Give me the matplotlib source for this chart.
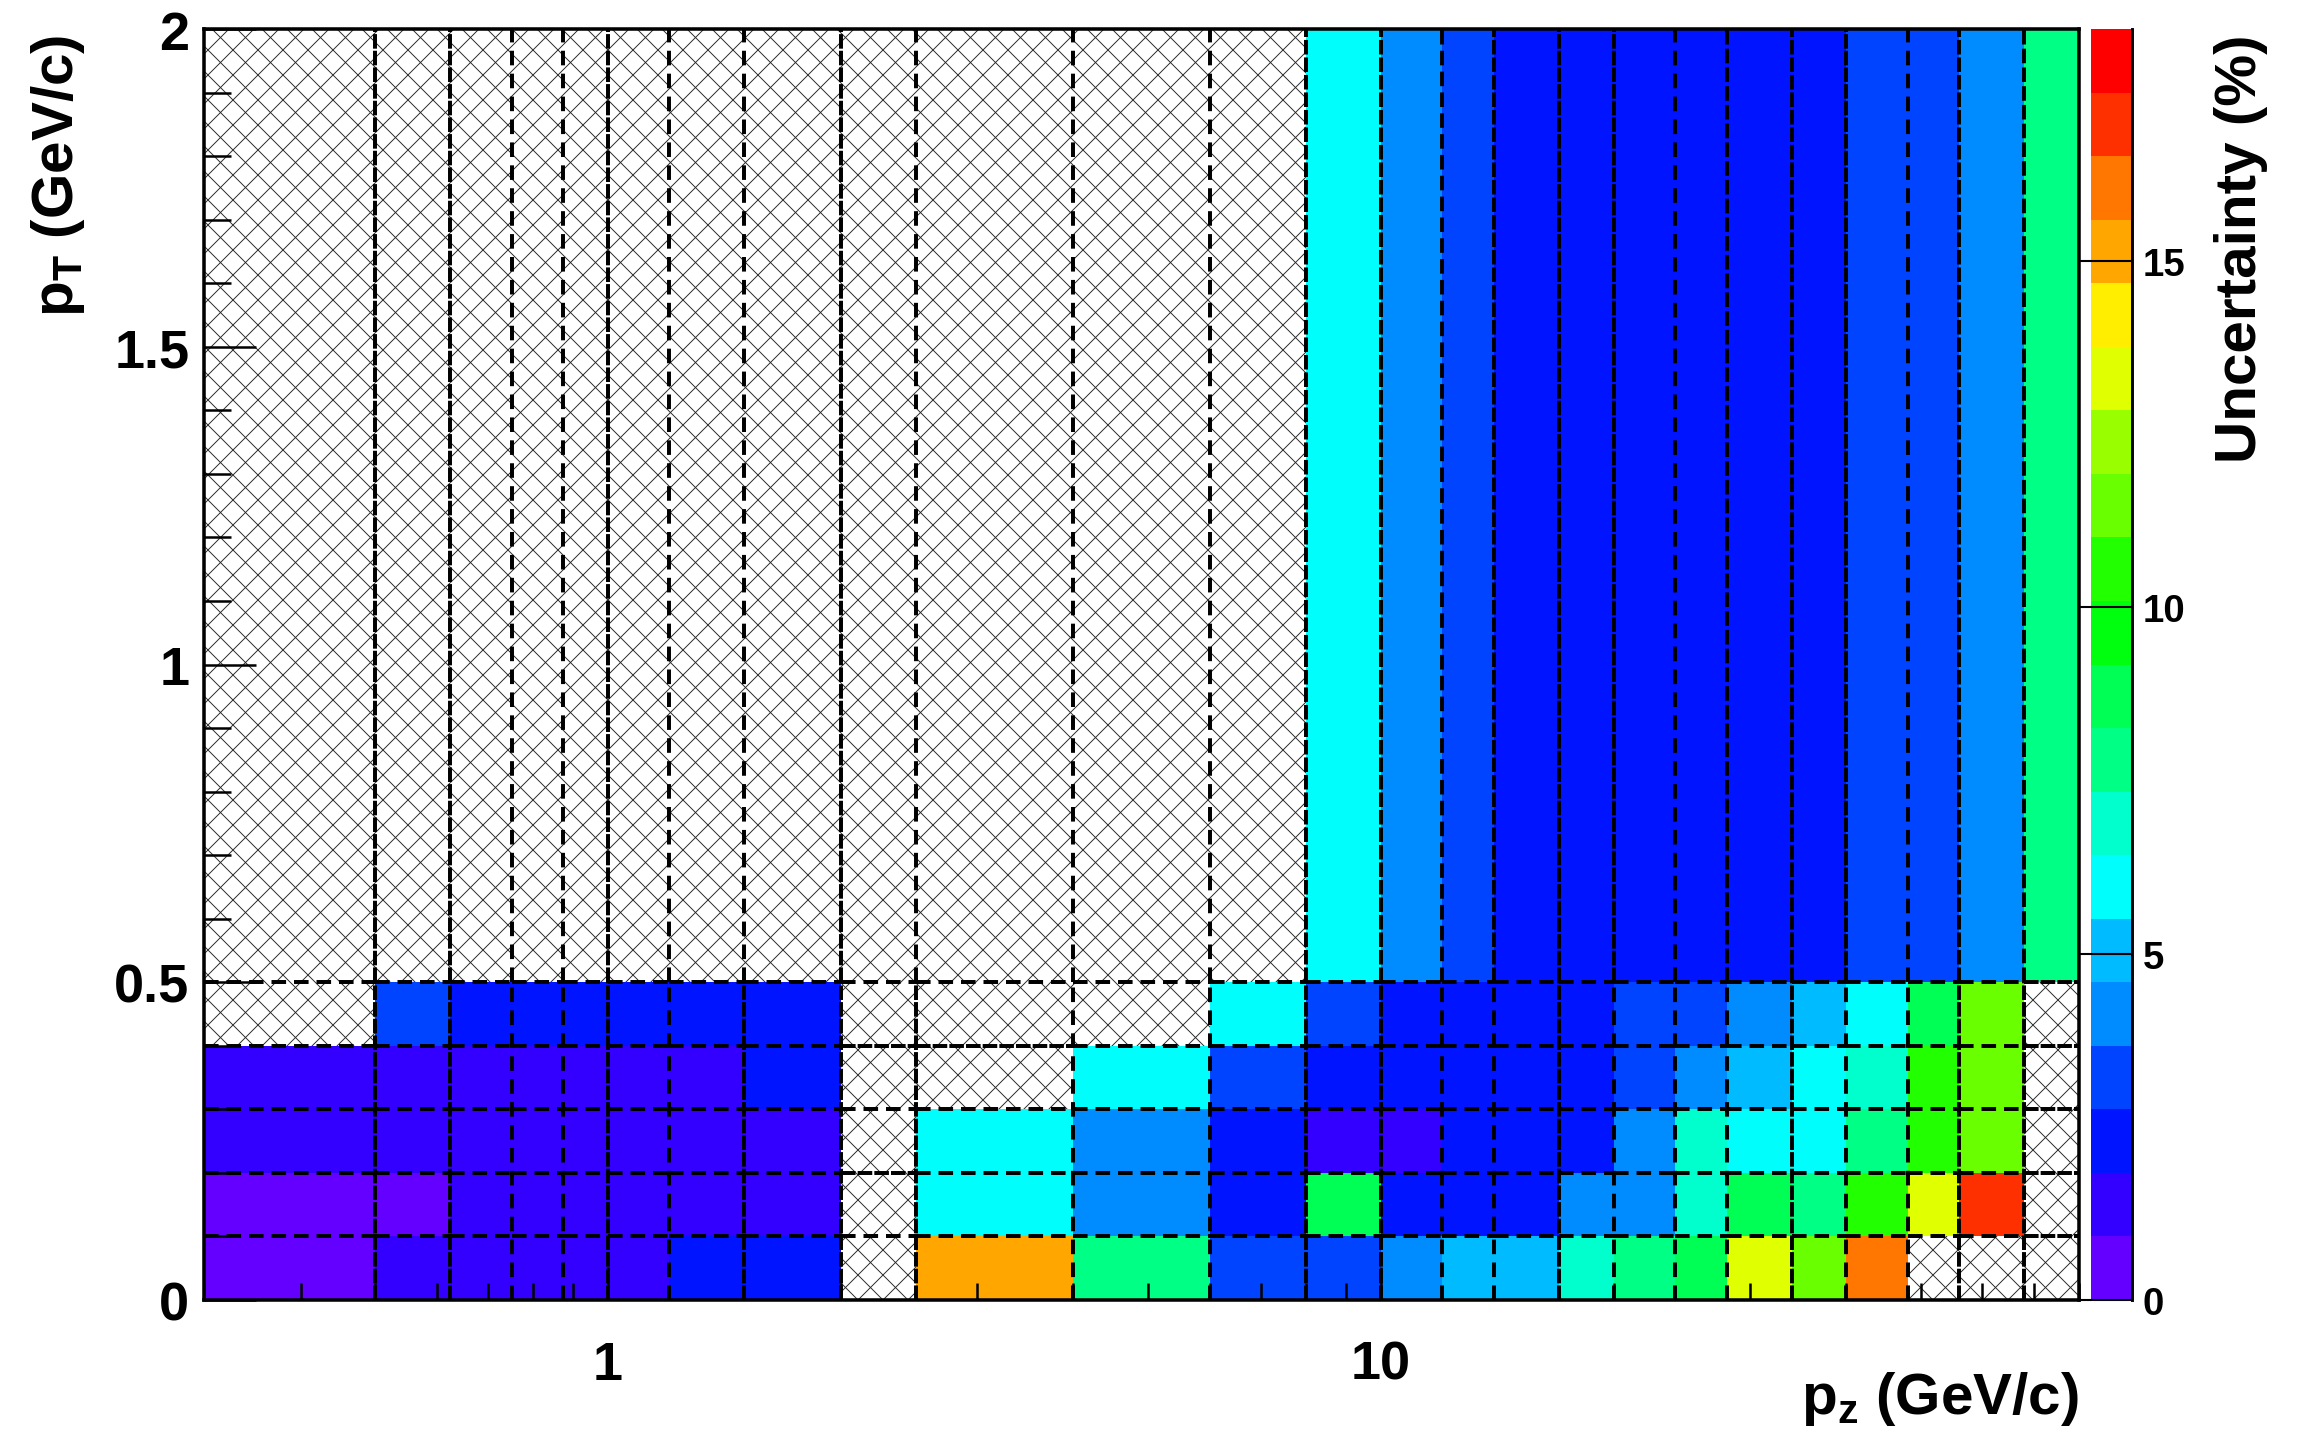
import colorsys
import numpy as np
import matplotlib
matplotlib.use("Agg")
import matplotlib.pyplot as plt
from matplotlib.colors import ListedColormap, BoundaryNorm
from matplotlib.collections import LineCollection
from matplotlib.ticker import LogLocator, MultipleLocator, NullFormatter

# bin edges (p_z log axis, p_T linear)
pz_edges = [0.3, 0.5, 0.625, 0.75, 0.875, 1.0, 1.2, 1.5, 2.0, 2.5, 4.0, 6.0, 8.0,
            10, 12, 14, 17, 20, 24, 28, 34, 40, 48, 56, 68, 80]
pt_edges = [0.0, 0.1, 0.2, 0.3, 0.4, 0.5, 2.0]

nan = np.nan
# uncertainty (%) per p_z bin, one list per p_T row (nan = empty bin)
unc_pt_00_01 = [0.5, 1.4, 1.4, 1.4, 1.4, 1.4, 2.3, 2.3, nan, 15.1, 7.8, 3.2,
                3.2, 4.1, 5.0, 5.0, 6.9, 7.8, 8.7, 13.3, 11.5, 16.0, nan, nan, nan]
unc_pt_01_02 = [0.5, 0.5, 1.4, 1.4, 1.4, 1.4, 1.4, 1.4, nan, 6.0, 4.1, 2.3,
                8.7, 2.3, 2.3, 2.3, 4.1, 4.1, 6.9, 8.7, 7.8, 10.5, 13.3, 17.0, nan]
unc_pt_02_03 = [1.4, 1.4, 1.4, 1.4, 1.4, 1.4, 1.4, 1.4, nan, 6.0, 4.1, 2.3,
                1.4, 1.4, 2.3, 2.3, 2.3, 4.1, 6.9, 6.0, 6.0, 7.8, 10.5, 11.5, nan]
unc_pt_03_04 = [1.4, 1.4, 1.4, 1.4, 1.4, 1.4, 1.4, 2.3, nan, nan, 6.0, 3.2,
                2.3, 2.3, 2.3, 2.3, 2.3, 3.2, 4.1, 5.0, 6.0, 6.9, 10.5, 11.5, nan]
unc_pt_04_05 = [nan, 3.2, 2.3, 2.3, 2.3, 2.3, 2.3, 2.3, nan, nan, nan, 6.0,
                3.2, 2.3, 2.3, 2.3, 2.3, 3.2, 3.2, 4.1, 5.0, 6.0, 8.7, 11.5, nan]
unc_pt_05_20 = [nan, nan, nan, nan, nan, nan, nan, nan, nan, nan, nan, nan,
                6.0, 4.1, 3.2, 2.3, 2.3, 2.3, 2.3, 2.3, 2.3, 3.2, 3.2, 4.1, 7.8]

z_max = 18.35
n_contours = 20

# look of the bin borders: dash gap (pt) of each inner p_z edge, above / below p_T = 0.5
gap_upper = [1, 1, 4, 4, 1, 4, 4, 1, 4, 4, 4, 1.4, 1.4, 3, 1.4, 1, 1, 4, 2, 1.4, 1, 4, 1.4, 2]
gap_lower = [1, 1, 4, 4, 1, 4, 1, 1, 1, 4, 4, 1, 1, 4, 4, 1, 4, 4, 4, 1, 4, 4, 1, 1]

plt.rcParams['font.family'] = ['Liberation Sans', 'DejaVu Sans']
plt.rcParams['font.weight'] = 'bold'
plt.rcParams['mathtext.default'] = 'regular'
plt.rcParams['lines.scale_dashes'] = False

# ROOT pretty palette (SetPalette(1)) sampled for 20 contours
cols = []
for i in range(n_contours):
    idx = int((i + 0.99) * 50 / n_contours)
    hue = 280 - (idx + 1) * 280 / 50
    cols.append(colorsys.hls_to_rgb(hue / 360, 0.5, 1.0))
cmap = ListedColormap(cols)
norm = BoundaryNorm(np.linspace(0, z_max, n_contours + 1), n_contours)

Z = np.ma.masked_invalid(np.array([unc_pt_00_01, unc_pt_01_02, unc_pt_02_03,
                                   unc_pt_03_04, unc_pt_04_05, unc_pt_05_20]))

W, H = 2297, 1443
fig = plt.figure(figsize=(W / 150, H / 150), dpi=150)
ax = fig.add_axes([0.0888, 0.0984, 0.8163, 0.8808])
ax.set_xscale('log')

# cross hatch of the frame (shows through empty bins), 25 px pitch
aw, ah = 0.8163 * W, 0.8808 * H
hatch = []
for c in np.arange(-ah, aw + ah, 25):
    hatch.append([(c / aw, 0), ((c + ah) / aw, 1)])
    hatch.append([(c / aw, 0), ((c - ah) / aw, 1)])
ax.add_collection(LineCollection(hatch, colors='#262626', linewidths=0.45,
                                 transform=ax.transAxes, zorder=0), autolim=False)

mesh = ax.pcolormesh(pz_edges, pt_edges, Z, cmap=cmap, norm=norm, zorder=1,
                     antialiased=False, linewidth=0)

# dashed bin borders
segs, styles = [], []
for i in range(1, len(pz_edges) - 1):
    segs.append([(pz_edges[i], 0), (pz_edges[i], 0.5)])
    styles.append((0, (7, gap_lower[i - 1])))
    segs.append([(pz_edges[i], 0.5), (pz_edges[i], 2.0)])
    styles.append((0, (7, gap_upper[i - 1])))
for j in range(1, len(pt_edges) - 1):
    for i in range(len(pz_edges) - 1):
        segs.append([(pz_edges[i], pt_edges[j]), (pz_edges[i + 1], pt_edges[j])])
        near_solid = i == 24 or (j == 2 and i == 8) or (j == 4 and i in (8, 9))
        styles.append((0, (7, 1 if near_solid else 3.8)))
ax.add_collection(LineCollection(segs, colors='black', linewidths=1.9,
                                 linestyles=styles, zorder=2), autolim=False)

ax.set_xlim(0.3, 80)
ax.set_ylim(0, 2)
ax.set_axisbelow(False)

ax.set_xticks([1, 10], ['1', '10'])
ax.xaxis.set_minor_locator(LogLocator(base=10, subs=np.arange(2, 10)))
ax.xaxis.set_minor_formatter(NullFormatter())
ax.set_yticks([0, 0.5, 1, 1.5, 2], ['0', '0.5', '1', '1.5', '2'])
ax.yaxis.set_minor_locator(MultipleLocator(0.1))
ax.tick_params(axis='x', which='major', direction='in', length=16, width=1.2,
               pad=19, labelsize=26, top=False)
ax.tick_params(axis='x', which='minor', direction='in', length=8, width=1.2, top=False)
ax.tick_params(axis='y', which='major', direction='in', length=25, width=1.2,
               pad=7, labelsize=26, right=False)
ax.tick_params(axis='y', which='minor', direction='in', length=13, width=1.2, right=False)
for s in ax.spines.values():
    s.set_linewidth(1.7)
    s.set_zorder(5)

# palette
cax = fig.add_axes([0.9103, 0.0984, 0.01785, 0.8808])
cb = fig.colorbar(mesh, cax=cax, ticks=[0, 5, 10, 15])
cb.outline.set_visible(False)
cb.set_ticklabels(['0', '5', '10', '15'])
cax.minorticks_off()
cax.tick_params(direction='in', length=25, width=1.0, pad=5, labelsize=18.5,
                right=True, left=False)
cax.plot([1, 1], [0, 1], transform=cax.transAxes, color='black', lw=1.4, clip_on=False)

fig.text(0.905, 0.020, 'p$_{z}$ (GeV/c)', ha='right', va='baseline', fontsize=28)
fig.text(0.0254, 0.976, 'p$_{T}$ (GeV/c)', rotation=90, ha='center', va='top', fontsize=28)
fig.text(0.9756, 0.976, 'Uncertainty (%)', rotation=90, ha='center', va='top', fontsize=28)

fig.savefig('out.png', dpi=150)
